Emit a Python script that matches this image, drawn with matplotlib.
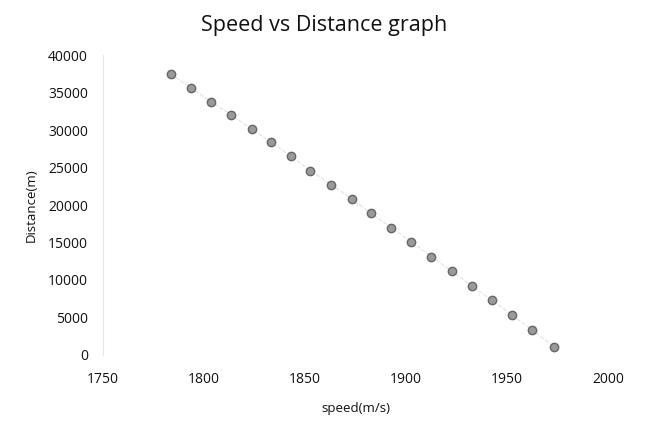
import matplotlib
matplotlib.use('Agg')
import matplotlib.pyplot as plt

# speed (m/s) and distance (m)
speed = [1783.5, 1793.5, 1803.5, 1813.5, 1823.5, 1833, 1843, 1852.5, 1863, 1873,
         1882.5, 1892.5, 1902.5, 1912.5, 1922.5, 1932.5, 1942.5, 1952.5, 1962.5, 1973]
distance = [37500, 35600, 33800, 32000, 30100, 28400, 26500, 24600, 22700, 20800,
            18900, 17000, 15100, 13100, 11200, 9200, 7300, 5300, 3300, 1100]

x_ticks = [1750, 1800, 1850, 1900, 1950, 2000]
y_ticks = [0, 5000, 10000, 15000, 20000, 25000, 30000, 35000, 40000]

plt.rcParams['font.family'] = ['Open Sans', 'DejaVu Sans']

fig = plt.figure(figsize=(6.45, 4.21), dpi=100)
ax = fig.add_axes([0.160, 0.157, 0.783, 0.712])

ax.plot(speed, distance, color='#e2e2e2', linewidth=0.8, linestyle='--', zorder=1)
ax.scatter(speed, distance, s=36, color='#9a9a9a', edgecolors='#666666',
           linewidths=1.0, zorder=2)

ax.set_xlim(1750, 2000)
ax.set_ylim(0, 40000)
ax.set_xticks(x_ticks)
ax.set_yticks(y_ticks)
ax.tick_params(axis='x', length=0, pad=12, labelsize=10, colors='#111111')
ax.tick_params(axis='y', length=0, pad=11, labelsize=10, colors='#111111')

for side in ['top', 'right', 'bottom']:
    ax.spines[side].set_visible(False)
ax.spines['left'].set_color('#e6e6e6')
ax.spines['left'].set_linewidth(0.8)

fig.suptitle('Speed vs Distance graph', x=0.503, y=0.965, fontsize=15.5, color='#111111')
ax.set_xlabel('speed(m/s)', fontsize=9.5, color='#111111', labelpad=11)
ax.set_ylabel('Distance(m)', fontsize=9.5, color='#111111', labelpad=7)

fig.savefig('out.png', dpi=100)
